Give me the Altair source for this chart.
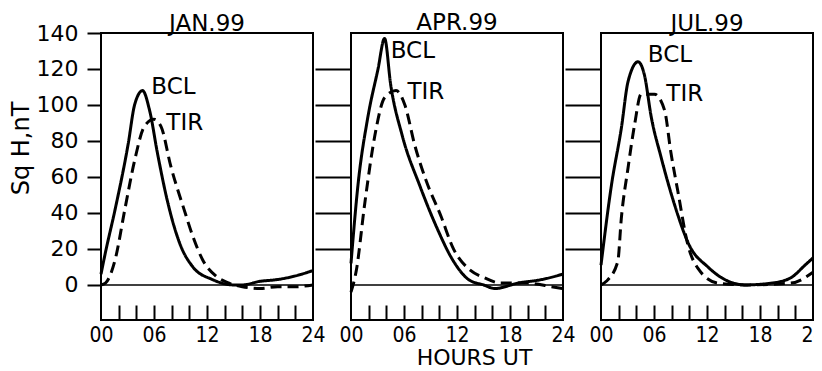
import altair as alt
import pandas as pd

FONT = "DejaVu Sans"
NARROW = "DejaVu Sans Condensed, Liberation Sans Narrow, DejaVu Sans"

months = ["JAN.99", "APR.99", "JUL.99"]
series = ["BCL", "TIR"]

# ---- curves (hour UT, Sq H in nT) ----
jan_bcl_h = [0, 0.5, 1.6, 3.1, 3.8, 4.7, 5.5, 6.4, 7.5, 9.0, 10.4, 12.6, 15.0, 16.0, 18.0, 20.0, 22.0, 24.0]
jan_bcl_v = [6, 18, 42, 79, 100, 108, 97, 73, 47, 22, 10, 3, 0, 0, 2, 3, 5, 8]
jan_tir_h = [0, 0.5, 1.6, 2.7, 3.8, 4.9, 6.0, 6.8, 7.9, 9.4, 10.4, 11.5, 13.0, 14.5, 16.0, 18.0, 20.0, 22.0, 24.0]
jan_tir_v = [0, 1, 14, 42, 69, 88, 92, 88, 66, 42, 27, 14, 5, 1, -1, -2, -1, -1, 0]

apr_bcl_h = [0, 0.8, 1.9, 3.06, 3.8, 4.5, 5.8, 7.8, 9.7, 11.5, 13.3, 15.0, 16.3, 18.9, 21.6, 24.0]
apr_bcl_v = [12, 56, 93, 120, 137, 111, 83, 55, 32, 14, 3, 0, -2, 1, 3, 6]
apr_tir_h = [0, 0.6, 1.55, 2.7, 3.8, 5.1, 6.1, 7.2, 8.5, 10.2, 11.6, 13.3, 15.1, 17.0, 20.0, 22.7, 24.0]
apr_tir_v = [-4, 8, 45, 83, 104, 108, 100, 78, 58, 38, 20, 9, 4, 1, 1, -1, -2]

jul_bcl_h = [0, 1.2, 2.3, 3.06, 4.2, 4.9, 5.7, 6.8, 8.3, 10.0, 12.1, 14.0, 16.3, 19.3, 21.5, 23.1, 24.0]
jul_bcl_v = [11, 56, 87, 113, 124, 117, 93, 71, 45, 22, 10, 3, 0, 1, 4, 11, 15]
jul_tir_h = [0, 0.6, 1.9, 2.3, 3.06, 3.8, 4.55, 6.05, 7.2, 7.9, 8.7, 9.85, 11.0, 13.25, 16.3, 21.5, 24.0]
jul_tir_v = [0, 2, 13, 37, 65, 89, 106, 106, 97, 74, 52, 22, 9, 1, 0, 1, 7]

# curve labels
label_month = ["JAN.99", "JAN.99", "APR.99", "APR.99", "JUL.99", "JUL.99"]
label_series = ["BCL", "TIR", "BCL", "TIR", "BCL", "TIR"]
label_hour = [5.7, 7.4, 4.5, 6.4, 5.3, 7.4]
label_value = [110, 90, 130, 107, 128, 106]

y_tick_values = [0, 20, 40, 60, 80, 100, 120, 140]
y_gap_ticks = [20, 40, 60, 80, 100, 120]
x_label_values = [0, 6, 12, 18, 24]
x_minor_ticks = [2, 4, 6, 8, 10, 12, 14, 16, 18, 20, 22]
zero_level = [0]

curves = {
    ("JAN.99", "BCL"): (jan_bcl_h, jan_bcl_v),
    ("JAN.99", "TIR"): (jan_tir_h, jan_tir_v),
    ("APR.99", "BCL"): (apr_bcl_h, apr_bcl_v),
    ("APR.99", "TIR"): (apr_tir_h, apr_tir_v),
    ("JUL.99", "BCL"): (jul_bcl_h, jul_bcl_v),
    ("JUL.99", "TIR"): (jul_tir_h, jul_tir_v),
}
rows = []
for (m, s), (hs, vs) in curves.items():
    for k, (h, v) in enumerate(zip(hs, vs)):
        rows.append({"month": m, "series": s, "hour": h, "sq": v, "order": k})
df = pd.DataFrame(rows)
labels_df = pd.DataFrame({"month": label_month, "series": label_series,
                          "hour": label_hour, "sq": label_value})
zero_df = pd.DataFrame({"level": zero_level})

W, H = 212, 287
xscale = alt.Scale(domain=[0, 24], nice=False, zero=False)
yscale = alt.Scale(domain=[-19.5, 140], nice=False, zero=False)


def panel(idx, month):
    if idx == 0:
        yaxis = alt.Axis(values=y_tick_values, title="Sq H,nT", tickSize=14, tickWidth=2,
                         tickColor="black", labelFontSize=22, labelFont=FONT, labelColor="black",
                         labelPadding=9, domain=False, grid=False, titleFontSize=24,
                         titleFont=FONT, titleFontWeight="normal", titleColor="black",
                         titleY=115, titlePadding=3)
    else:
        yaxis = alt.Axis(values=y_gap_ticks, title=None, labels=False, tickSize=36,
                         tickWidth=2, tickColor="black", domain=False, grid=False)
    xaxis = alt.Axis(values=x_label_values,
                     labelExpr="datum.value < 10 ? '0' + datum.value : '' + datum.value",
                     ticks=False, domain=False, grid=False, labelFontSize=21, labelFont=NARROW,
                     labelColor="black", labelPadding=4, labelFlush=False, labelOverlap=False,
                     title="HOURS UT" if idx == 1 else None, titleFont=FONT, titleFontSize=22,
                     titleFontWeight="normal", titleColor="black", titleX=123, titlePadding=2)
    topaxis = alt.Axis(orient="top", offset=-H, values=x_minor_ticks, labels=False,
                       tickSize=15, tickWidth=2, tickColor="black", domain=False,
                       grid=False, title=None)

    lines = alt.Chart(df[df.month == month]).mark_line(
        interpolate="monotone", strokeWidth=3, color="black"
    ).encode(
        x=alt.X("hour:Q", scale=xscale, axis=xaxis),
        y=alt.Y("sq:Q", scale=yscale, axis=yaxis),
        strokeDash=alt.StrokeDash("series:N", scale=alt.Scale(domain=series, range=[[1, 0], [11, 6]]),
                                  legend=None),
        order="order:Q",
    )
    zero = alt.Chart(zero_df).mark_rule(strokeWidth=1.5, color="black").encode(
        y=alt.Y("level:Q", scale=yscale, axis=yaxis)
    )
    text = alt.Chart(labels_df[labels_df.month == month]).mark_text(
        align="left", baseline="middle", font=FONT, fontSize=23, color="black"
    ).encode(
        x=alt.X("hour:Q", scale=xscale, axis=topaxis),
        y=alt.Y("sq:Q", scale=yscale, axis=yaxis),
        text="series:N",
    )
    title_kw = dict(fontSize=23, font=FONT, fontWeight="normal", offset=-3, color="black")
    if idx == 0:
        title_kw["dy"] = 11
    return alt.layer(lines, zero, text).resolve_axis(x="independent").properties(
        width=W, height=H, title=alt.TitleParams(month, **title_kw),
    )


chart = alt.hconcat(*[panel(i, m) for i, m in enumerate(months)], spacing=38, bounds="flush")
chart = chart.configure_view(stroke="black", strokeWidth=2).properties(
    background="white",
    autosize=alt.AutoSizeParams(type="none"),
    padding={"left": 93, "top": 25, "right": 713, "bottom": 340},
)
chart.save("out.html", embed_options={"renderer": "svg", "actions": False})
